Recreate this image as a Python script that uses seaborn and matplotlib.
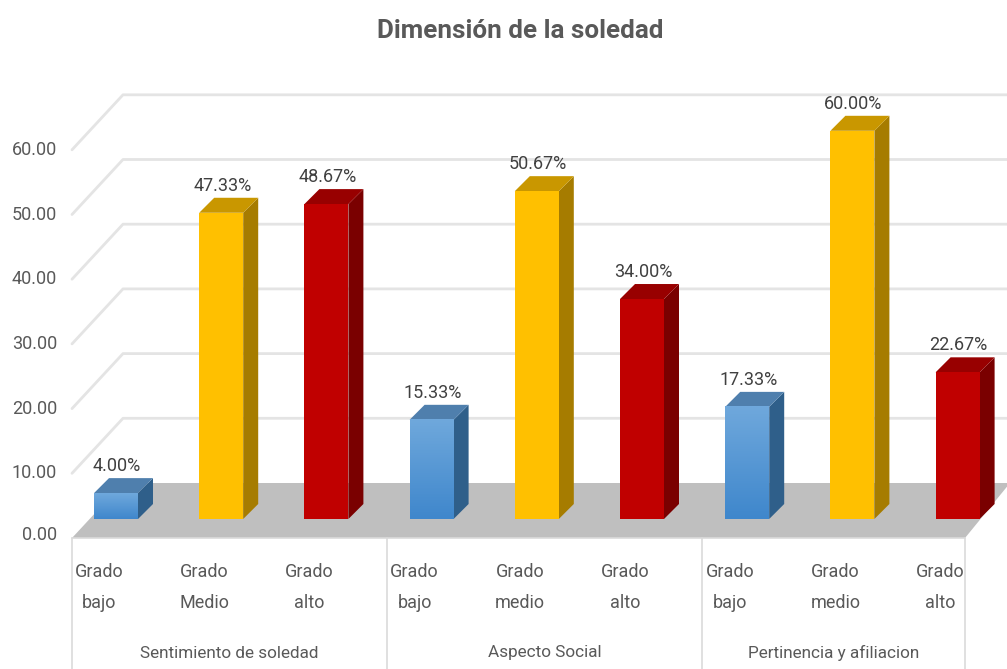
import matplotlib
matplotlib.use('Agg')
import matplotlib.pyplot as plt
from matplotlib.colors import LinearSegmentedColormap
from matplotlib.patches import Polygon
import seaborn as sns
import pandas as pd
import numpy as np

title = 'Dimensión de la soledad'
grades = ['Grado\nbajo', 'Grado\nMedio', 'Grado\nalto',
          'Grado\nbajo', 'Grado\nmedio', 'Grado\nalto',
          'Grado\nbajo', 'Grado\nmedio', 'Grado\nalto']
groups = ['Sentimiento de soledad', 'Aspecto Social', 'Pertinencia y afiliacion']
values = [4.00, 47.33, 48.67, 15.33, 50.67, 34.00, 17.33, 60.00, 22.67]
y_ticks = [0, 10, 20, 30, 40, 50, 60]

W, H = 1007, 669
PX_X = 105.2          # pixels per category
PX_Y = 6.47           # pixels per percent
X0, Y0 = 116, 519     # pixel of first category centre / bar base

TEXT = '#595959'


# pixel helpers for the fake 3D depth
def dx(px):
    return px / PX_X


def dy(px):
    return px / PX_Y


def xpix(px):
    return (px - X0) / PX_X


sns.set_theme(style='white')
plt.rcParams['font.family'] = ['Roboto', 'DejaVu Sans']

fig = plt.figure(figsize=(W / 100, H / 100), dpi=100)
ax = fig.add_axes([0, 0, 1, 1])

df = pd.DataFrame({'pos': [str(i) for i in range(len(values))], 'value': values})
colors = ['#5B9BD5', '#FFC000', '#C00000'] * 3
sns.barplot(data=df, x='pos', y='value', hue='pos', palette=colors, legend=False,
            width=44 / PX_X, saturation=1, linewidth=0, ax=ax, zorder=5)
bars = [c[0] for c in ax.containers]

ax.axis('off')

x_front_l, x_front_r = xpix(72), xpix(965)
x_back_l, x_back_r = xpix(123), xpix(1010)
y_front = -dy(19)
y_back = dy(36)
y_bottom = -(H - Y0) / PX_Y

# floor
ax.add_patch(Polygon([(x_front_l, y_front), (x_back_l, y_back), (x_back_r, y_back),
                      (x_front_r, y_front)], fc='#BFBFBF', ec='none', zorder=1))

# walls and y labels
for t in y_ticks[1:]:
    ax.plot([x_front_l, x_back_l, x_back_r], [y_front + t, y_back + t, y_back + t],
            color='#E4E4E4', lw=2, zorder=1)
    ax.text(xpix(57), y_front + t, f'{t:.2f}', ha='right', va='center',
            fontsize=13, color=TEXT)
ax.text(xpix(57), y_front + dy(3), f'{y_ticks[0]:.2f}', ha='right', va='center',
        fontsize=13, color=TEXT)
ax.plot([x_front_l, x_front_r], [y_front, y_front], color='#DADADA', lw=1.2, zorder=2)

# depth faces and labels, taken from the seaborn bars
side_cols = {'#5B9BD5': '#2F5F8A', '#FFC000': '#A67C00', '#C00000': '#7A0000'}
top_cols = {'#5B9BD5': '#4F7FAD', '#FFC000': '#C99700', '#C00000': '#980000'}
blue_map = LinearSegmentedColormap.from_list('blue_bar', ['#3F87CC', '#6FA8DC'])
depth_x, depth_y = dx(15), dy(15)
for bar, col, val, lab in zip(bars, colors, values, grades):
    x, w, h = bar.get_x(), bar.get_width(), bar.get_height()
    ax.add_patch(Polygon([(x + w, 0), (x + w + depth_x, depth_y), (x + w + depth_x, h + depth_y), (x + w, h)],
                         fc=side_cols[col], ec='none', zorder=4))
    ax.add_patch(Polygon([(x, h), (x + depth_x, h + depth_y), (x + w + depth_x, h + depth_y), (x + w, h)],
                         fc=top_cols[col], ec='none', zorder=4))
    if col == '#5B9BD5':
        grad = np.linspace(0, 1, 64).reshape(-1, 1)
        ax.imshow(grad, extent=(x, x + w, 0, h), origin='lower', cmap=blue_map, aspect='auto', zorder=6)
    ax.text(x + w / 2 + dx(1), h + depth_y + dy(3), f'{val:.2f}%', ha='center', va='bottom',
            fontsize=13, color='#404040', zorder=7)
    top_line, bottom_line = lab.split('\n')
    ax.text(x + w / 2 - dx(17), -dy(53), top_line, ha='center', va='center', fontsize=13, color=TEXT)
    ax.text(x + w / 2 - dx(17), -dy(84), bottom_line, ha='center', va='center', fontsize=13, color=TEXT)

# imshow resets the limits
ax.set_xlim(-X0 / PX_X, (W - X0) / PX_X)
ax.set_ylim(y_bottom, Y0 / PX_Y)

# group separators and names
seps = [xpix(72), xpix(387), xpix(702), xpix(965)]
for s in seps:
    ax.plot([s, s], [y_front, y_bottom], color='#DADADA', lw=1.2, zorder=2)
for i, g in enumerate(groups):
    ax.text((seps[i] + seps[i + 1]) / 2, -dy(134), g, ha='center', va='center', fontsize=12.3, color=TEXT)

ax.text(xpix(520), (Y0 - 31) / PX_Y, title, ha='center', va='center',
        fontsize=18.7, fontweight='bold', color=TEXT)

fig.savefig('out.png', dpi=100)
plt.close(fig)
